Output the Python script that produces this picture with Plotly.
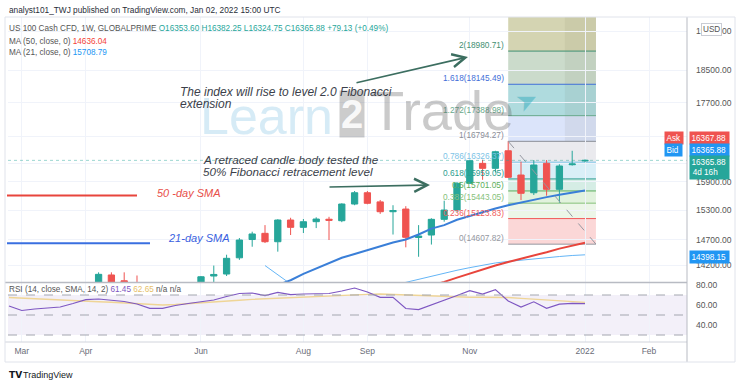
import math
import plotly.graph_objects as go

# ---------------- data ----------------
dates = ["2021-02-22", "2021-03-01", "2021-03-08", "2021-03-15", "2021-03-22", "2021-03-29",
         "2021-04-05", "2021-04-12", "2021-04-19", "2021-04-26", "2021-05-03", "2021-05-10",
         "2021-05-17", "2021-05-24", "2021-05-31", "2021-06-07", "2021-06-14", "2021-06-21",
         "2021-06-28", "2021-07-05", "2021-07-12", "2021-07-19", "2021-07-26", "2021-08-02",
         "2021-08-09", "2021-08-16", "2021-08-23", "2021-08-30", "2021-09-06", "2021-09-13",
         "2021-09-20", "2021-09-27", "2021-10-04", "2021-10-11", "2021-10-18", "2021-10-25",
         "2021-11-01", "2021-11-08", "2021-11-15", "2021-11-22", "2021-11-29", "2021-12-06",
         "2021-12-13", "2021-12-20", "2021-12-27", "2022-01-03"]

opens = [13550, 12950, 12700, 13150, 12960, 13050, 13480, 13830, 14010, 13900, 13850, 13700,
         13400, 13470, 13690, 13760, 13990, 14028, 14340, 14700, 14824, 14656, 15094, 14945,
         15060, 15110, 15080, 15425, 15663, 15470, 15265, 15320, 14740, 14790, 15108, 15300,
         15865, 16300, 16190, 16580, 16044, 15663, 16301, 15736, 16270, 16353.60]
highs = [13650, 13100, 13250, 13300, 13100, 13500, 13860, 14060, 14060, 14060, 14000, 13720,
         13600, 13750, 13820, 13990, 14190, 14400, 14730, 14857, 14990, 15110, 15140, 15115,
         15150, 15160, 15440, 15700, 15700, 15510, 15400, 15380, 14990, 15130, 15495, 15890,
         16380, 16380, 16580, 16794.27, 16336, 16374, 16374, 16280, 16580, 16382.25]
lows = [12700, 12250, 12600, 12900, 12650, 12950, 13450, 13780, 13720, 13700, 13300, 12950,
        13000, 13450, 13550, 13700, 13780, 13990, 14300, 14557, 14630, 14460, 14790, 14830,
        14930, 14690, 15050, 15400, 15420, 15220, 14800, 14545, 14360, 14600, 15060, 15260,
        15850, 15940, 16100, 15980, 15509, 15615, 15600, 15453, 16250, 16324.75]
closes = [12950, 12700, 13150, 12960, 13050, 13480, 13830, 14022, 13860, 13860, 13720, 13400,
          13470, 13690, 13770, 13976, 14020, 14330, 14690, 14811, 14656, 15094, 14945, 15059,
          15114, 15088, 15425, 15663, 15440, 15265, 15290, 14744, 14770, 15108, 15300, 15865,
          16358, 16190, 16559, 15994, 15651, 16263, 15736, 16241, 16286.75, 16365.88]

ma21 = [12400, 12480, 12560, 12640, 12710, 12780, 12850, 12920, 12990, 13060, 13120, 13180,
        13240, 13300, 13360, 13420, 13480, 13540, 13600, 13660, 13740, 13820, 13910, 14030,
        14130, 14240, 14340, 14415, 14490, 14565, 14640, 14700, 14800, 14920, 14990, 15100,
        15180, 15260, 15330, 15400, 15460, 15520, 15570, 15620, 15665, 15708.79]
ma50 = [11490, 11560, 11630, 11700, 11770, 11840, 11910, 11980, 12050, 12120, 12190, 12260,
        12330, 12400, 12470, 12540, 12610, 12680, 12750, 12820, 12890, 12960, 13030, 13100,
        13170, 13240, 13310, 13380, 13450, 13520, 13590, 13660, 13730, 13800, 13880, 13960,
        14040, 14120, 14190, 14260, 14320, 14390, 14450, 14520, 14580, 14636.04]
ma_light = [None] * 20 + [14190, 14010, 13840, 13760, 13720, 13700, 13710, 13730, 13760, 13790,
                          13830, 13870, 13930, 13990, 14050, 14100, 14150, 14200, 14240, 14270,
                          14297, 14320, 14345, 14365, 14385, 14398.15]

rsi = [59, 54.5, 56, 56.7, 58, 61.5, 65.4, 66, 64.8, 63.5, 61, 56.7, 56.7, 59.5, 61.5, 63,
       65, 68.5, 71.5, 72, 69.4, 72.7, 70.3, 71, 71, 71.5, 74, 77, 73, 67.7, 67.7, 56.5,
       55.4, 60, 64.4, 69.5, 74.4, 71, 75.4, 64, 58, 63.2, 56.7, 60.8, 61.7, 61.45]
rsi_ma = [67.5, 67, 66.5, 66, 65.3, 64.6, 64, 63.3, 62.7, 62, 61.2, 60.4, 60, 60.5, 61.5,
          62.2, 63, 64, 64.8, 65.6, 66.2, 66.9, 67.5, 68.2, 68.6, 69.1, 69.6, 70.2, 70.6, 71,
          70.5, 69.8, 69.1, 68.6, 68.2, 67.8, 67.7, 67.7, 67.7, 67.5, 66.6, 65.8, 64.9, 64,
          63.3, 62.65]

month_tick_dates = ["2021-03-01", "2021-04-05", "2021-06-07", "2021-08-02", "2021-09-06",
                    "2021-11-01", "2022-01-03", "2022-02-07"]
month_tick_text = ["Mar", "Apr", "Jun", "Aug", "Sep", "Nov", "2022", "Feb"]

price_ticks = [14200, 14700, 15300, 15900, 16300, 16900, 17700, 18500, 19500]
price_tick_text = ["14200.00", "14700.00", "15300.00", "15900.00", "", "", "17700.00",
                   "18500.00", "19500.00"]

fib_ratios = [0, 0.236, 0.382, 0.5, 0.618, 0.786, 1, 1.272, 1.618, 2, 2.618]
fib_prices = [14607.82, 15123.83, 15443.05, 15701.05, 15959.05, 16326.37, 16794.27,
              17388.98, 18145.49, 18980.71, 20331.93]
fib_labels = ["0(14607.82)", "0.236(15123.83)", "0.382(15443.05)", "0.5(15701.05)",
              "0.618(15959.05)", "0.786(16326.37)", "1(16794.27)", "1.272(17388.98)",
              "1.618(18145.49)", "2(18980.71)", ""]
fib_start = "2021-11-22"
fib_end = "2022-01-09"
fib_shade_start = "2021-12-23"

# ---------------- styling ----------------
fib_line_colors = ["#9598a1", "#f05a5a", "#86c17a", "#5cae5c", "#2a9d8f", "#7cc3e6",
                   "#8a8d96", "#68a98c", "#3f6fd8", "#3f8f72", "#9c9c5a"]
fib_band_colors = ["rgba(244,150,150,0.38)", "rgba(200,230,190,0.35)", "rgba(180,222,170,0.40)",
                   "rgba(150,210,190,0.40)", "rgba(160,215,235,0.40)", "rgba(200,200,210,0.38)",
                   "rgba(175,195,245,0.45)", "rgba(110,190,195,0.55)", "rgba(160,190,160,0.55)",
                   "rgba(185,185,130,0.62)"]

W, H = 740, 387
L_PX, R_PX, T_PX, B_PX = 8, 687, 17, 342
MAIN_BOT, RSI_TOP = 282, 283


def px(x):
    return (x - L_PX) / (R_PX - L_PX)


def py(y):
    return (B_PX - y) / (B_PX - T_PX)


FONT = "Liberation Sans"

fig = go.Figure()

fig.add_trace(go.Candlestick(
    x=dates, open=opens, high=highs, low=lows, close=closes,
    increasing=dict(line=dict(color="#26a69a", width=1), fillcolor="#26a69a"),
    decreasing=dict(line=dict(color="#ef5350", width=1), fillcolor="#ef5350"),
    whiskerwidth=0, showlegend=False, hoverinfo="skip", xaxis="x", yaxis="y"))

fig.add_trace(go.Scatter(x=dates, y=ma_light, mode="lines", line=dict(color="#64b5f6", width=1),
                         showlegend=False, hoverinfo="skip", xaxis="x", yaxis="y"))
fig.add_trace(go.Scatter(x=dates, y=ma50, mode="lines", line=dict(color="#e8453c", width=2),
                         showlegend=False, hoverinfo="skip", xaxis="x", yaxis="y"))
fig.add_trace(go.Scatter(x=dates, y=ma21, mode="lines", line=dict(color="#3a7fd8", width=2),
                         showlegend=False, hoverinfo="skip", xaxis="x", yaxis="y"))

fig.add_trace(go.Scatter(x=dates, y=rsi_ma, mode="lines", line=dict(color="#efd596", width=1.4),
                         showlegend=False, hoverinfo="skip", xaxis="x", yaxis="y2"))
fig.add_trace(go.Scatter(x=dates, y=rsi, mode="lines", line=dict(color="#7e57c2", width=1.2),
                         showlegend=False, hoverinfo="skip", xaxis="x", yaxis="y2"))

shapes = []
annotations = []

# Fibonacci bands / lines / labels (shapes take raw prices; annotations take log10)
for i in range(len(fib_prices) - 1):
    shapes.append(dict(type="rect", xref="x", yref="y", layer="below",
                       x0=fib_start, x1=fib_end,
                       y0=fib_prices[i], y1=fib_prices[i + 1],
                       fillcolor=fib_band_colors[i], line=dict(width=0)))
shapes.append(dict(type="rect", xref="x", yref="y", layer="below",
                   x0=fib_shade_start, x1=fib_end,
                   y0=fib_prices[6], y1=fib_prices[-1],
                   fillcolor="rgba(90,90,60,0.07)", line=dict(width=0)))
for i in range(len(fib_prices) - 1):
    shapes.append(dict(type="line", xref="x", yref="y", layer="below",
                       x0=fib_start, x1=fib_end,
                       y0=fib_prices[i], y1=fib_prices[i],
                       line=dict(color=fib_line_colors[i], width=1)))
    annotations.append(dict(xref="x", yref="y", x=fib_start, y=math.log10(fib_prices[i]),
                            text=fib_labels[i], showarrow=False, xanchor="right",
                            yanchor="bottom", xshift=-2, yshift=-1,
                            font=dict(family=FONT, size=8.3, color=fib_line_colors[i])))
shapes.append(dict(type="line", xref="x", yref="y", x0=fib_start, x1=fib_end,
                   y0=fib_prices[6], y1=fib_prices[0],
                   line=dict(color="#9598a1", width=1, dash="dash")))

# last price line
shapes.append(dict(type="line", xref="paper", yref="y", x0=0, x1=1,
                   y0=closes[-1], y1=closes[-1],
                   line=dict(color="rgba(38,166,154,0.45)", width=1, dash="dot")))

# RSI band and levels
shapes.append(dict(type="rect", xref="paper", yref="y2", x0=0, x1=1, y0=30, y1=70,
                   fillcolor="rgba(126,87,194,0.09)", line=dict(width=0), layer="below"))
for lv in (70, 50, 30):
    shapes.append(dict(type="line", xref="paper", yref="y2", x0=0, x1=1, y0=lv, y1=lv,
                       line=dict(color="#a3a6af", width=1, dash="dash")))

# pane separators / frame / price axis border
shapes.append(dict(type="line", xref="paper", yref="paper", x0=px(5), x1=1,
                   y0=py(282.5), y1=py(282.5), line=dict(color="#b8bbc3", width=1.5)))
shapes.append(dict(type="line", xref="paper", yref="paper", x0=px(5), x1=1,
                   y0=py(342), y1=py(342), line=dict(color="#d1d4dc", width=1)))
shapes.append(dict(type="line", xref="paper", yref="paper", x0=1, x1=1,
                   y0=py(362), y1=py(17), line=dict(color="#b8bbc3", width=1)))
shapes.append(dict(type="rect", xref="paper", yref="paper", x0=px(5), x1=px(735),
                   y0=py(362), y1=py(17), line=dict(color="#e0e3eb", width=1)))

# drawn SMA legend lines
shapes.append(dict(type="line", xref="paper", yref="paper", x0=px(7), x1=px(137),
                   y0=py(195.5), y1=py(195.5), line=dict(color="#e8453c", width=2)))
shapes.append(dict(type="line", xref="paper", yref="paper", x0=px(7), x1=px(150),
                   y0=py(243.3), y1=py(243.3), line=dict(color="#3a6fe0", width=2)))


def txt(x, y, text, size=8.5, color="#555", xanchor="left", yanchor="middle", **kw):
    d = dict(xref="paper", yref="paper", x=px(x), y=py(y), text=text, showarrow=False,
             xanchor=xanchor, yanchor=yanchor,
             font=dict(family=kw.pop("family", FONT), size=size, color=color))
    d.update(kw)
    annotations.append(d)


# watermark
txt(266, 116, "Learn", size=52, color="rgba(120,190,225,0.30)", xanchor="center")
txt(352, 114, "<b>2</b>", size=40, color="rgba(255,255,255,0.9)", xanchor="center",
    bgcolor="rgba(110,110,110,0.35)", borderpad=1)
txt(442, 110, "Trade", size=56, color="rgba(95,95,95,0.33)", xanchor="center")
txt(527, 100, "➤", size=26, color="rgba(0,150,175,0.35)", xanchor="center", textangle=-25,
    family="DejaVu Sans")

# header + legends
txt(7, 10, "analyst101_TWJ published on TradingView.com, Jan 02, 2022 15:00 UTC", size=8.3,
    color="#2a2e39")
txt(7, 28, "US 100 Cash CFD, 1W, GLOBALPRIME <span style='color:#26a69a'>O16353.60 "
           "H16382.25 L16324.75 C16365.88 +79.13 (+0.49%)</span>", size=8.2, color="#555")
txt(7, 41, "MA (50, close, 0) <span style='color:#f44336'>14636.04</span>", size=8.2,
    color="#555")
txt(7, 53, "MA (21, close, 0) <span style='color:#2196f3'>15708.79</span>", size=8.2,
    color="#555")
txt(7, 289, "RSI (14, close, SMA, 14, 2) <span style='color:#7e57c2'>61.45</span> "
            "<span style='color:#e6c068'>62.65</span> n/a n/a", size=8.2, color="#555")

# drawing texts
txt(178, 92, "<i>The index will rise to level 2.0 Fibonacci</i>", size=12, color="#3b3f4a")
txt(178, 104, "<i>extension</i>", size=12, color="#3b3f4a")
txt(201, 159, "<i>A retraced candle body tested the</i>", size=11.7, color="#3b3f4a")
txt(201, 171, "<i>50% Fibonacci retracement level</i>", size=11.7, color="#3b3f4a")
txt(155, 193, "<i>50 -day SMA</i>", size=11, color="#e8504a")
txt(166, 238, "<i>21-day SMA</i>", size=11, color="#3a5fe0")

# arrows (head position in paper coords, tail offset in pixels)
annotations.append(dict(xref="paper", yref="paper", axref="pixel", ayref="pixel",
                        x=px(468), y=py(57), ax=355 - 468, ay=83 - 57, text="",
                        showarrow=True, arrowhead=5, arrowsize=1.6, arrowwidth=1.6,
                        arrowcolor="#3c6e60"))
annotations.append(dict(xref="paper", yref="paper", axref="pixel", ayref="pixel",
                        x=px(430), y=py(185), ax=328 - 430, ay=187 - 185, text="",
                        showarrow=True, arrowhead=5, arrowsize=1.6, arrowwidth=1.6,
                        arrowcolor="#3c6e60"))


# price-scale labels
def box(x, y, text, bg):
    annotations.append(dict(xref="paper", yref="paper", x=px(x), y=py(y), text=text,
                            showarrow=False, xanchor="left", yanchor="middle",
                            bgcolor=bg, borderpad=1.5,
                            font=dict(family=FONT, size=8.2, color="white")))


box(664, 138, "Ask", "#ef5350")
box(689, 138, "16367.88 ", "#ef5350")
box(664, 150, "Bid ", "#2196f3")
box(689, 150, "16365.88 ", "#2196f3")
box(689, 167, "16365.88 <br>4d 16h    ", "#26a69a")
box(689, 257, "14398.15 ", "#2196f3")
annotations.append(dict(xref="paper", yref="paper", x=px(711), y=py(29), text="USD",
                        showarrow=False, xanchor="center", yanchor="middle",
                        bgcolor="white", bordercolor="#c9ccd4", borderwidth=1, borderpad=1,
                        font=dict(family=FONT, size=8.2, color="#555")))

# TradingView logo
txt(7, 375, "<b>TV</b>", size=9, color="#131722", family="DejaVu Sans")
txt(21, 375, "TradingView", size=9, color="#131722")

fig.update_layout(
    width=W, height=H,
    margin=dict(l=L_PX, r=W - R_PX, t=T_PX, b=H - B_PX),
    paper_bgcolor="white", plot_bgcolor="white",
    showlegend=False,
    shapes=shapes, annotations=annotations,
    xaxis=dict(type="date", range=["2021-02-21 11:00", "2022-02-27 18:43"],
               domain=[0, 1], anchor="y2", rangeslider=dict(visible=False),
               tickmode="array", tickvals=month_tick_dates, ticktext=month_tick_text,
               showgrid=True, gridcolor="#f0f3fa", gridwidth=1, zeroline=False,
               showline=False, ticks="", ticklabelstandoff=2,
               tickfont=dict(family=FONT, size=8.5, color="#6a6d78")),
    yaxis=dict(type="log", range=[math.log10(13877), math.log10(19879)],
               domain=[py(MAIN_BOT), 1], anchor="x", side="right",
               tickmode="array", tickvals=price_ticks, ticktext=price_tick_text,
               showgrid=True, gridcolor="#f0f3fa", zeroline=False, showline=False,
               ticks="", ticklabelstandoff=8,
               tickfont=dict(family=FONT, size=8.5, color="#555")),
    yaxis2=dict(range=[23, 82], domain=[0, py(RSI_TOP)], anchor="x", side="right",
                tickmode="array", tickvals=[40, 60, 80], ticktext=["40.00", "60.00", "80.00"],
                showgrid=False, zeroline=False, showline=False, ticks="",
                ticklabelstandoff=8, tickfont=dict(family=FONT, size=8.5, color="#555")),
)

fig.write_html("out.html", config={"displayModeBar": False},
               post_script="document.body.style.margin='0px';")
